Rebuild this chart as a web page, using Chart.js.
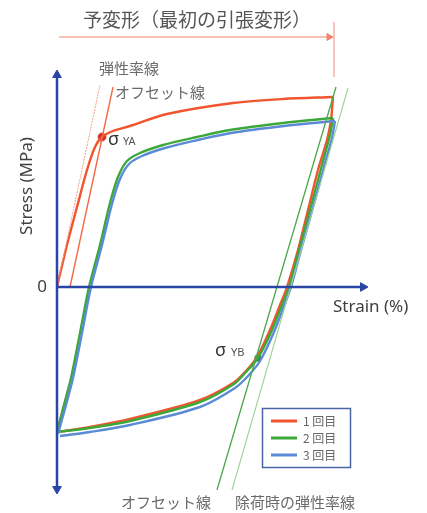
<!DOCTYPE html>
<html>
<head>
<meta charset="utf-8">
<script src="https://cdn.jsdelivr.net/npm/chart.js@4.4.1/dist/chart.umd.min.js"></script>
<style>
  html, body { margin: 0; padding: 0; background: #fff; }
</style>
</head>
<body>
<canvas id="chart" width="427" height="513"></canvas>
<script>
// cycle names shown in the legend
const cycleLabels = ['1 回目', '2 回目', '3 回目'];

// 1st cycle: loading, unloading, compression branch, short reload
const strain1 = [0, 0.2, 0.4, 0.6, 0.76, 0.9, 1.12, 1.46, 2.2, 3.52, 4.52, 5.52,
  5.48, 5.4, 5.22, 5.02, 4.82, 4.6, 4.46, 4.26, 4.0, 3.76, 3.52, 2.86, 1.46, 0.66, 0,
  0.22];
const stress1 = [0, 21, 40, 58.5, 70, 75, 78, 80.5, 86.5, 92, 94, 95,
  83.5, 73.5, 58.5, 38.5, 18.5, 0, -9, -21.5, -35, -42.5, -48, -56.5, -66, -70, -72.5,
  -52];
const turns1 = [11, 26];

// 2nd cycle
const strain2 = [0, 0.14, 0.28, 0.46, 0.64, 0.86, 1.06, 1.22, 1.4, 1.66, 2.12, 2.8, 3.46, 4.52, 5.52,
  5.46, 5.3, 5.06, 4.84, 4.64, 4.5, 4.3, 4.02, 3.78, 3.54, 2.86, 1.46, 0.66, 0];
const stress2 = [-72.5, -59, -45.5, -23, 0, 21, 42, 55, 63, 67, 71, 75, 78.5, 82, 84.5,
  76, 61, 38.5, 18.5, 0, -9, -21.5, -35.5, -42.5, -48.5, -57.5, -67, -70.5, -72.5];
const turns2 = [14];

// 3rd cycle
const strain3 = [0.02, 0.18, 0.32, 0.5, 0.68, 0.9, 1.1, 1.26, 1.44, 1.7, 2.16, 2.82, 3.48, 4.54, 5.56,
  5.5, 5.34, 5.1, 4.88, 4.68, 4.54, 4.34, 4.06, 3.82, 3.56, 2.86, 1.46, 0.66, 0.06];
const stress3 = [-73.5, -59, -45.5, -23, 0, 21, 41.5, 54, 61.5, 65.5, 69.5, 73.5, 77, 80.5, 83,
  74.5, 60, 38, 18.5, 0, -9.5, -22.5, -37, -44.5, -50.5, -60, -69, -72.5, -74.5];
const turns3 = [14];

// construction lines [x0, y0, x1, y1]
const elasticLine = [0, 0, 0.86, 101];
const offsetLineA = [0.26, 0, 1.12, 100];
const offsetLineB = [3.2, -101.5, 5.58, 100];
const unloadElasticLine = [3.5, -101.5, 5.82, 99.5];

// yield points
const yieldA = [0.9, 75];
const yieldB = [4.02, -35.5];

// pre-deformation span (first tensile strain)
const preStrain = [0.04, 5.52];
const preLevel = 125;

const RED = '#f0552d';
const GREEN = '#3da83a';
const BLUE = '#5b8bd6';
const AXIS = '#2a45a8';

const toPoints = (xs, ys) => xs.map((x, i) => ({ x, y: ys[i] }));
const segment = ([x0, y0, x1, y1]) => [{ x: x0, y: y0 }, { x: x1, y: y1 }];

// split a loop at its turning points so the tips stay sharp
const branches = (xs, ys, turns) => {
  const points = toPoints(xs, ys);
  const cuts = [0, ...turns, points.length - 1];
  return cuts.slice(1).map((end, i) => points.slice(cuts[i], end + 1));
};

const lineSet = (data, color, width, extra = {}) => ({
  data,
  showLine: true,
  borderColor: color,
  borderWidth: width,
  pointRadius: 0,
  tension: 0,
  ...extra,
});

const curveSets = (xs, ys, turns, color) =>
  branches(xs, ys, turns).map(part => lineSet(part, color, 2.4, { tension: 0.3 }));

const arrowSet = (data, color, width, rotations, size = 5) => lineSet(data, color, width, {
  pointStyle: 'triangle',
  pointRadius: rotations.map(r => (r === null ? 0 : size)),
  rotation: rotations.map(r => r ?? 0),
  pointBackgroundColor: color,
  pointBorderColor: color,
  pointBorderWidth: 1,
});

const datasets = [
  arrowSet([{ x: 0, y: -101 }, { x: 0, y: 106 }], AXIS, 2.5, [180, 0]),
  arrowSet([{ x: 0, y: 0 }, { x: 6.12, y: 0 }], AXIS, 2.5, [null, 90]),
  arrowSet(
    [{ x: preStrain[0], y: preLevel }, { x: preStrain[1] - 0.08, y: preLevel }],
    '#f4826a', 1.2, [null, 90], 4
  ),
  lineSet([{ x: preStrain[1] + 0.02, y: 132.5 }, { x: preStrain[1] + 0.02, y: 105 }], '#f4a090', 1.2),
  lineSet(segment(elasticLine), '#f6a08a', 1, { borderDash: [2, 1] }),
  lineSet(segment(offsetLineA), '#f26a48', 1.4),
  lineSet(segment(offsetLineB), '#4aa84a', 1.3),
  lineSet(segment(unloadElasticLine), '#9ad494', 1.1),
  ...curveSets(strain3, stress3, turns3, BLUE),
  ...curveSets(strain2, stress2, turns2, GREEN),
  ...curveSets(strain1, stress1, turns1, RED),
  {
    data: [{ x: yieldA[0], y: yieldA[1] }],
    pointRadius: 4.5,
    pointBackgroundColor: '#d42a22',
    pointBorderColor: '#f6d0c8',
    pointBorderWidth: 1,
  },
  {
    data: [{ x: yieldB[0], y: yieldB[1] }],
    pointRadius: 3.5,
    pointBackgroundColor: '#2d6b3a',
    pointBorderColor: '#7fbf7f',
    pointBorderWidth: 1,
  },
];

const JP = '"Noto Sans CJK JP", "Noto Sans", sans-serif';
const LATIN = '"Noto Sans", "Open Sans", sans-serif';

const textPlugin = {
  id: 'texts',
  afterDatasetsDraw(chart) {
    const { ctx } = chart;
    const xs = chart.scales.x;
    const ys = chart.scales.y;

    ctx.save();
    ctx.textBaseline = 'middle';

    ctx.fillStyle = '#555';
    ctx.font = `19px ${JP}`;
    ctx.textAlign = 'center';
    ctx.fillText('予変形（最初の引張変形）', 197, 20);

    ctx.fillStyle = '#6a6a6a';
    ctx.font = `15px ${JP}`;
    ctx.textAlign = 'left';
    ctx.fillText('弾性率線', 99, 68);
    ctx.fillText('オフセット線', 115, 92);
    ctx.fillText('オフセット線', 121, 502);
    ctx.fillText('除荷時の弾性率線', 235, 502);

    ctx.fillStyle = '#404040';
    ctx.font = `17px ${LATIN}`;
    ctx.textAlign = 'center';
    ctx.fillText('0', xs.getPixelForValue(0) - 15, ys.getPixelForValue(0));
    ctx.textAlign = 'left';
    ctx.fillText('Strain (%)', 333, 307);

    ctx.save();
    ctx.translate(27, 186);
    ctx.rotate(-Math.PI / 2);
    ctx.textAlign = 'center';
    ctx.fillText('Stress (MPa)', 0, 0);
    ctx.restore();

    // yield point labels
    const ax = xs.getPixelForValue(yieldA[0]);
    const ay = ys.getPixelForValue(yieldA[1]);
    ctx.fillStyle = '#333';
    ctx.font = `18px ${LATIN}`;
    ctx.fillText('σ', ax + 6, ay + 3);
    ctx.font = `11px ${LATIN}`;
    ctx.fillStyle = '#555';
    ctx.fillText('YA', ax + 21, ay + 5);

    const bx = xs.getPixelForValue(yieldB[0]);
    const by = ys.getPixelForValue(yieldB[1]);
    ctx.fillStyle = '#333';
    ctx.font = `18px ${LATIN}`;
    ctx.fillText('σ', bx - 43, by - 7);
    ctx.font = `11px ${LATIN}`;
    ctx.fillStyle = '#555';
    ctx.fillText('YB', bx - 27, by - 5);

    // legend box
    const colors = [RED, GREEN, BLUE];
    ctx.fillStyle = '#fff';
    ctx.fillRect(262, 408, 88, 59);
    ctx.strokeStyle = '#4a64a4';
    ctx.lineWidth = 1.5;
    ctx.strokeRect(262.5, 408.5, 88, 59);
    ctx.font = `12px ${JP}`;
    cycleLabels.forEach((label, i) => {
      const y = 421 + i * 17;
      ctx.strokeStyle = colors[i];
      ctx.lineWidth = 3;
      ctx.beginPath();
      ctx.moveTo(271, y);
      ctx.lineTo(297, y);
      ctx.stroke();
      ctx.fillStyle = '#666';
      ctx.fillText(label, 303, y);
    });

    ctx.restore();
  },
};

new Chart(document.getElementById('chart'), {
  type: 'scatter',
  data: { datasets },
  options: {
    responsive: false,
    animation: false,
    events: [],
    layout: { padding: 0, autoPadding: false },
    plugins: {
      legend: { display: false },
      tooltip: { enabled: false },
    },
    scales: {
      x: { type: 'linear', min: -1.14, max: 7.4, display: false },
      y: { type: 'linear', min: -113, max: 143.5, display: false },
    },
  },
  plugins: [textPlugin],
});
</script>
</body>
</html>
